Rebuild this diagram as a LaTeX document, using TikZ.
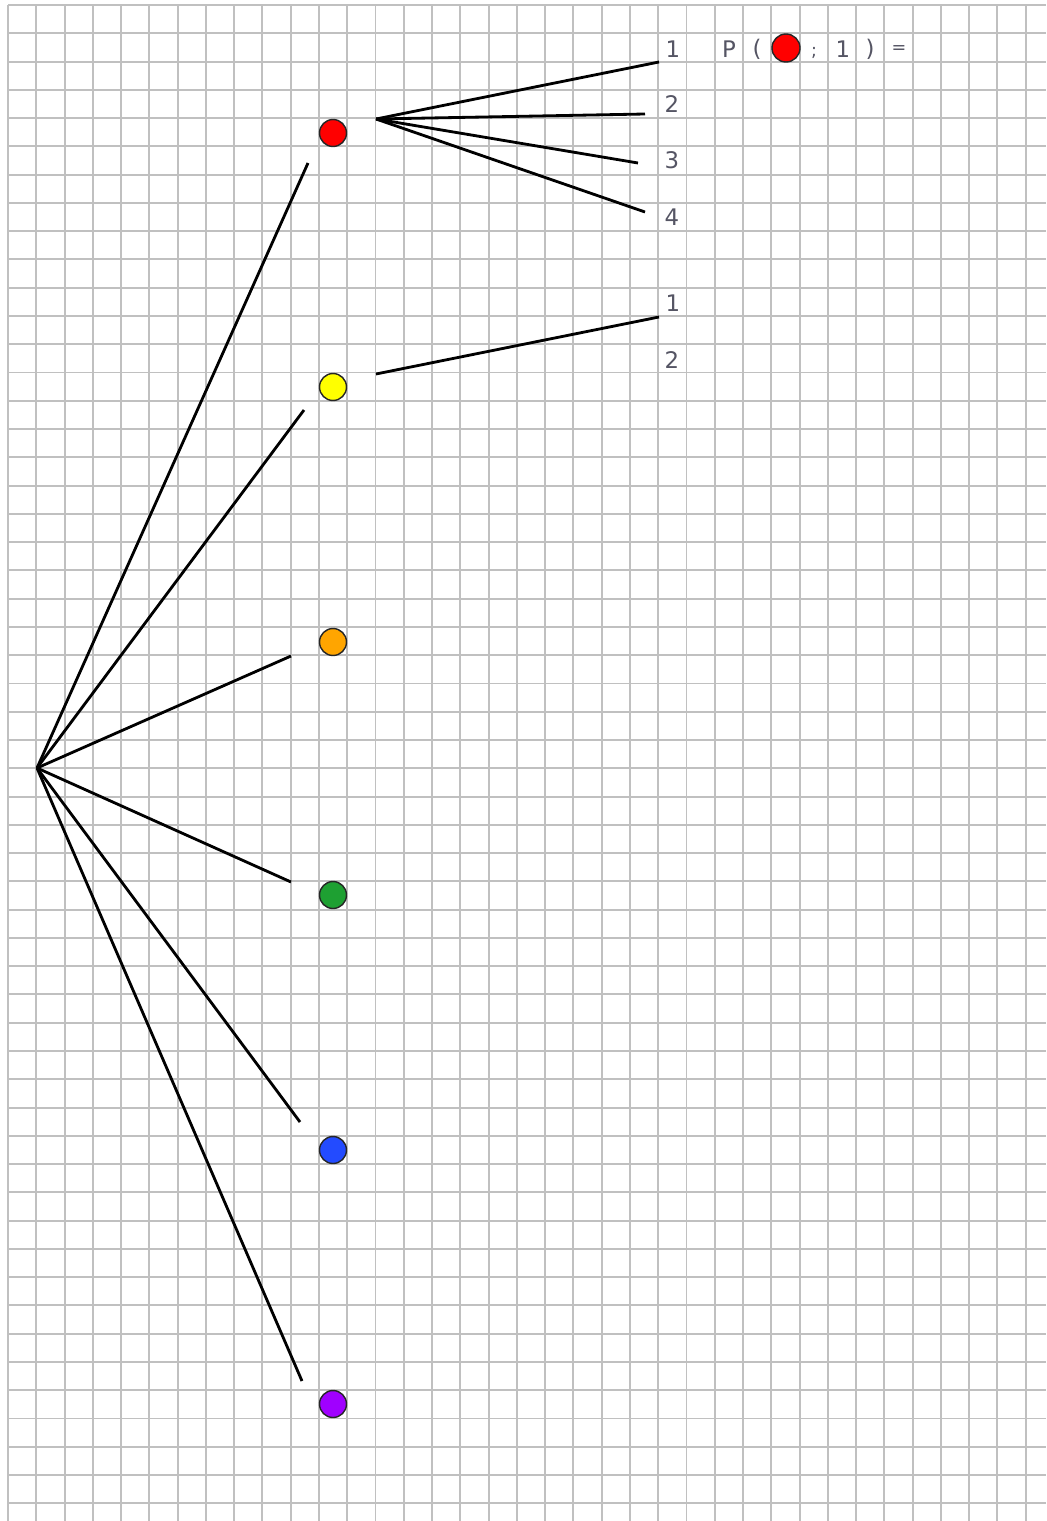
\documentclass[tikz,border=0pt]{standalone}
\usepackage{fontspec}
\setmainfont{DejaVu Sans}
\definecolor{cred}{RGB}{255,0,0}
\definecolor{cyellow}{RGB}{255,255,0}
\definecolor{corange}{RGB}{255,165,0}
\definecolor{cgreen}{RGB}{30,160,50}
\definecolor{cblue}{RGB}{35,75,255}
\definecolor{cpurple}{RGB}{160,0,255}
\definecolor{gridgray}{RGB}{192,192,192}
\definecolor{txtgray}{RGB}{85,85,100}
\begin{document}
\begin{tikzpicture}[x=0.02cm,y=-0.02cm,
  gridline/.style={draw=gridgray, line width=1.1pt},
  branch/.style={draw=black, line width=1.6pt},
  dot/.style={circle, draw=black!85, line width=0.8pt, minimum size=0.54cm, inner sep=0pt},
  lbl/.style={text=txtgray, font=\fontsize{13}{13}\selectfont, inner sep=0pt},
  sml/.style={text=txtgray, font=\fontsize{10}{10}\selectfont, inner sep=0pt}]
\useasboundingbox (0,0) rectangle (1046,1521);
\fill[white] (0,0) rectangle (1046,1521);
% grid
\foreach \k in {0,...,36} \draw[gridline] ({8+28.27*\k},5) -- ({8+28.27*\k},1521);
\foreach \k in {0,...,53} \draw[gridline] (8,{5+28.27*\k}) -- (1046,{5+28.27*\k});
% root and dots
\coordinate (root) at (37,768);
\node[dot, fill=cred]    (dr) at (333,133) {};
\node[dot, fill=cyellow] (dy) at (333,387) {};
\node[dot, fill=corange] (do) at (333,642) {};
\node[dot, fill=cgreen]  (dg) at (333,895) {};
\node[dot, fill=cblue]   (db) at (333,1150) {};
\node[dot, fill=cpurple] (dp) at (333,1404) {};
% first-level branch ends
\coordinate (er) at (308,163);
\coordinate (ey) at (304,410);
\coordinate (eo) at (291,656);
\coordinate (eg) at (291,882);
\coordinate (eb) at (300,1122);
\coordinate (ep) at (302,1381);
\foreach \e in {er,ey,eo,eg,eb,ep} \draw[branch] (root) -- (\e);
% second-level branches
\coordinate (sr) at (376,119);
\coordinate (r1) at (659,62);
\coordinate (r2) at (645,114);
\coordinate (r3) at (638,163);
\coordinate (r4) at (645,212);
\foreach \e in {r1,r2,r3,r4} \draw[branch] (sr) -- (\e);
\coordinate (sy) at (376,374);
\coordinate (y1) at (659,317);
\draw[branch] (sy) -- (y1);
% labels
\node[lbl] (l1) at (673,49) {1};
\node[lbl] (l2) at (672,104) {2};
\node[lbl] (l3) at (672,160) {3};
\node[lbl] (l4) at (672,217) {4};
\node[lbl] (m1) at (673,303) {1};
\node[lbl] (m2) at (672,360) {2};
% P expression
\node[lbl] (pP) at (729,49) {P};
\node[lbl] (pA) at (757,49) {(};
\node[dot, fill=cred, minimum size=0.56cm] (pD) at (786,48) {};
\node[sml] (pS) at (814,53) {;};
\node[lbl] (pO) at (843,49) {1};
\node[lbl] (pB) at (870,49) {)};
\node[sml] (pE) at (899,50) {=};
\end{tikzpicture}
\end{document}
